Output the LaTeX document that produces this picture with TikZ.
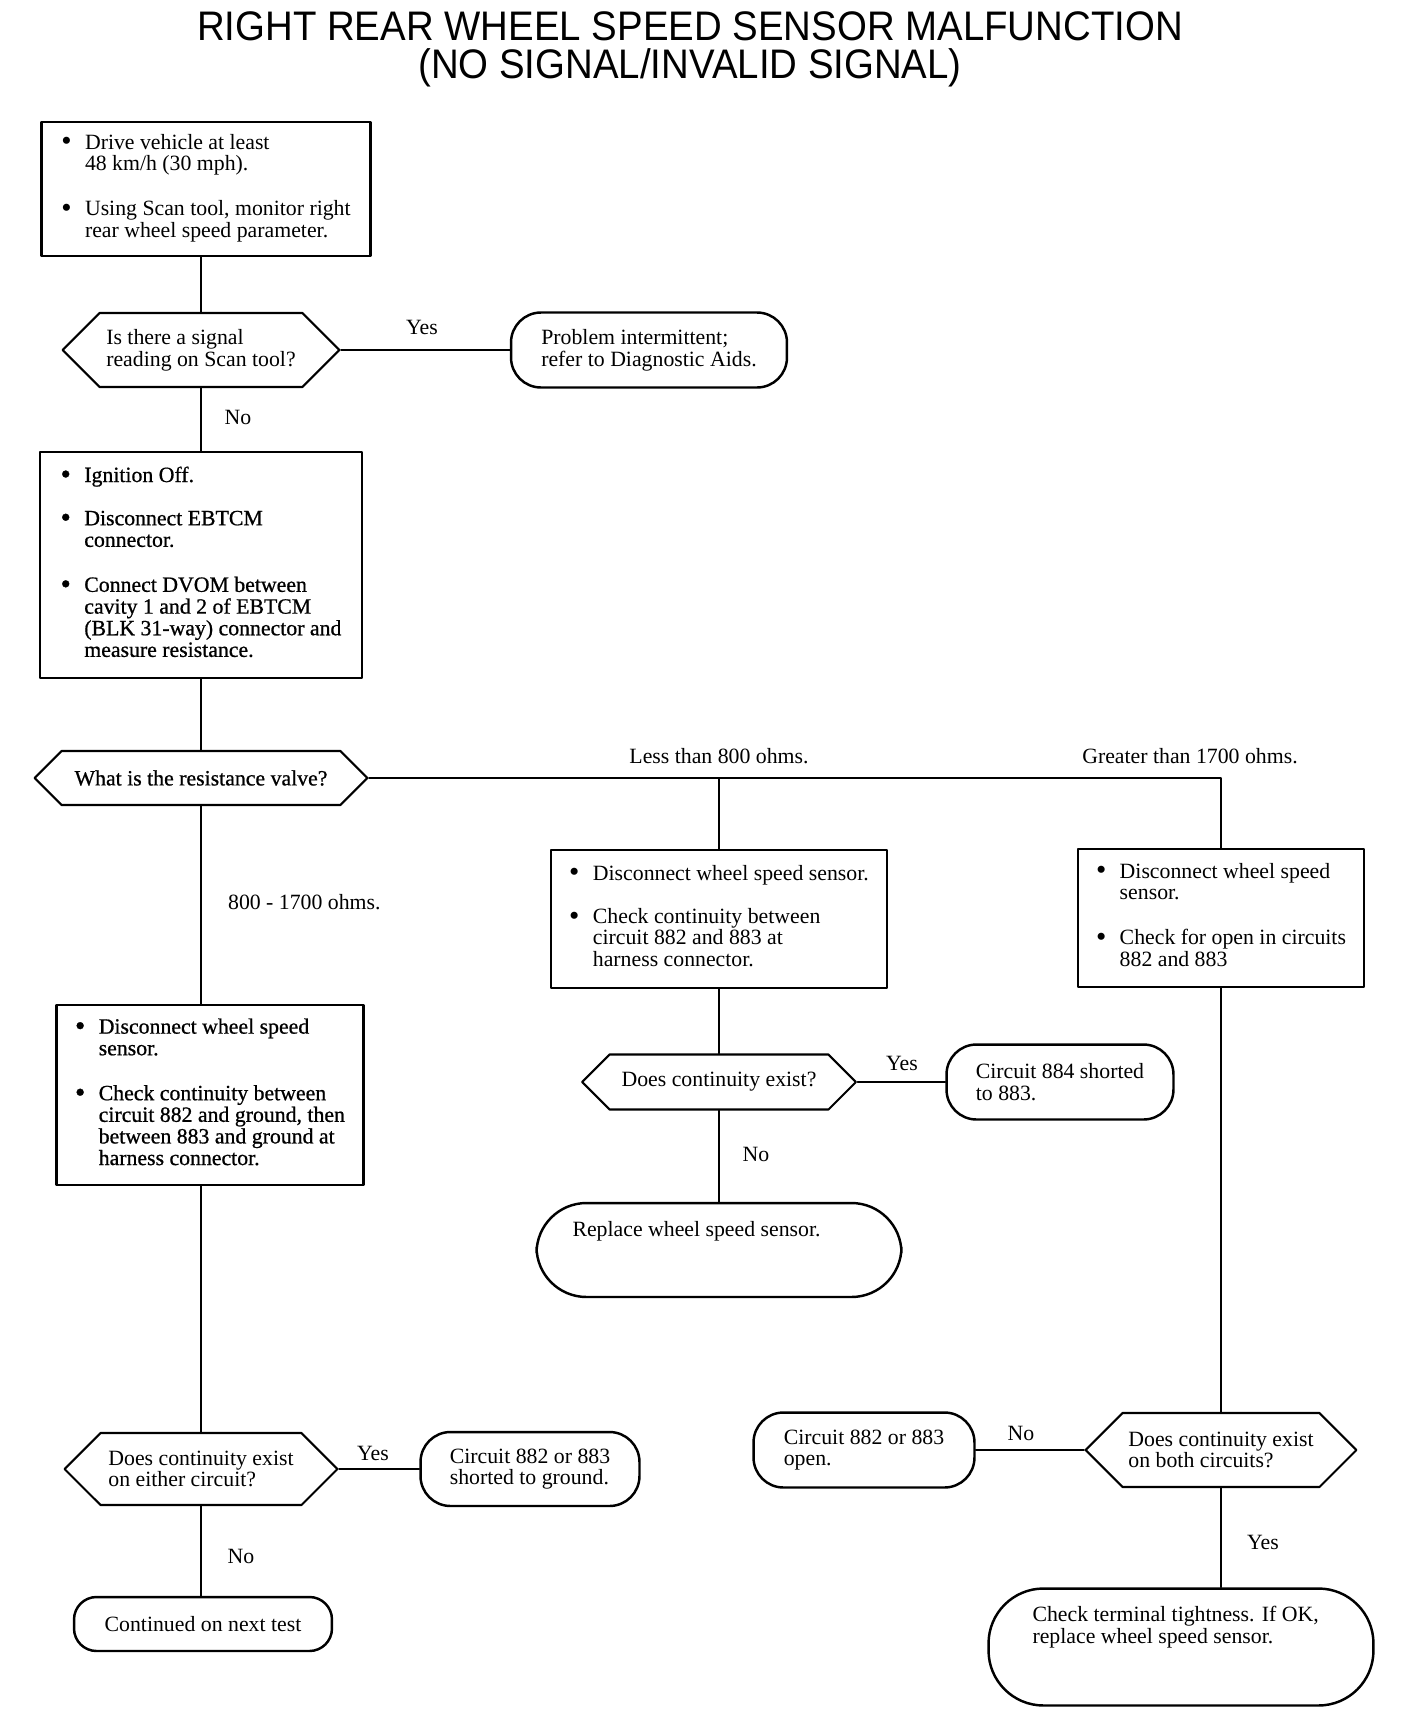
\documentclass[tikz,border=0pt]{standalone}
\usepackage{graphicx}
\usepackage{fontspec}
\setmainfont{Liberation Serif}
\newfontfamily\titlefont{Liberation Sans}[FakeStretch=0.93]
\newfontfamily\heavyfont{Liberation Serif}[FakeBold=0.8]
\usetikzlibrary{shapes.symbols}

% bullet line with hanging text
\newcommand{\bitem}[1]{\makebox[13.5pt][l]{\raisebox{-1pt}{\scalebox{1.35}{\textbullet}}}\begin{tabular}[t]{@{}l@{}}#1\end{tabular}}
% text pinned to the top of a tall node
\newcommand{\toptext}[3]{\begin{minipage}[c][#1][t]{#2}\raggedright #3\end{minipage}}

\begin{document}
\begin{tikzpicture}[
    x=0.02cm,
    y=-0.02cm,
    line cap=round,
    line join=round,
    every node/.style={
        font=\fontsize{12.4}{12.3}\selectfont
    },
    heavy/.style={
        font=\heavyfont\fontsize{12.4}{12.3}\selectfont
    },
    headline/.style={
        anchor=base,
        inner sep=0pt,
        font=\titlefont\fontsize{23.5}{24}\selectfont
    },
    stepbox/.style={
        draw,
        line width=1.4pt,
        align=left,
        inner sep=0pt
    },
    decision/.style={
        draw,
        line width=1.2pt,
        shape=signal,
        signal to=west and east,
        align=left,
        inner sep=0pt
    },
    terminal/.style={
        draw,
        line width=1.4pt,
        rounded corners=0.6cm,
        align=left,
        inner sep=0pt
    },
    bigterminal/.style={
        draw,
        line width=1.4pt,
        rounded corners=1cm
    },
    link/.style={
        line width=1pt
    },
    answer/.style={
        inner sep=1pt
    }
]

% -------------------------------------------------
% Page frame and title
% -------------------------------------------------

\useasboundingbox (0,0) rectangle (1408,1722);

\node[headline] (title) at (690,40) {RIGHT REAR WHEEL SPEED SENSOR MALFUNCTION};
\node[headline] (subtitle) at (690,78) {(NO SIGNAL/INVALID SIGNAL)};

% -------------------------------------------------
% Left column
% -------------------------------------------------

\node[stepbox, minimum width=6.58cm, minimum height=2.68cm]
    (drive) at (206,189)
    {\bitem{Drive vehicle at least\\48 km/h (30 mph).}\\[\baselineskip]
     \bitem{Using Scan tool, monitor right\\rear wheel speed parameter.}};

\node[decision, minimum width=5.54cm, minimum height=1.48cm]
    (signal) at (201,350)
    {Is there a signal\\reading on Scan tool?};

\node[terminal, minimum width=5.52cm, minimum height=1.5cm]
    (intermit) at (649,350)
    {Problem intermittent;\\refer to Diagnostic Aids.};

\node[stepbox, heavy, minimum width=6.44cm, minimum height=4.52cm]
    (ignition) at (201,565)
    {\bitem{Ignition Off.}\\[\baselineskip]
     \bitem{Disconnect EBTCM\\connector.}\\[\baselineskip]
     \bitem{Connect DVOM between\\cavity 1 and 2 of EBTCM\\(BLK 31-way) connector and\\measure resistance.}};

\node[decision, heavy, minimum width=6.66cm, minimum height=1.08cm]
    (resist) at (201,778)
    {What is the resistance valve?};

\node[stepbox, heavy, minimum width=6.14cm, minimum height=3.6cm]
    (groundchk) at (210,1095)
    {\bitem{Disconnect wheel speed\\sensor.}\\[\baselineskip]
     \bitem{Check continuity between\\circuit 882 and ground, then\\between 883 and ground at\\harness connector.}};

\node[decision, minimum width=5.46cm, minimum height=1.44cm]
    (contL) at (201,1469)
    {Does continuity exist\\on either circuit?};

\node[terminal, minimum width=4.38cm, minimum height=1.48cm]
    (shortgnd) at (530,1469)
    {Circuit 882 or 883\\shorted to ground.};

\node[terminal, rounded corners=0.45cm, minimum width=5.16cm, minimum height=1.08cm]
    (nexttest) at (203,1624)
    {Continued on next test};

% -------------------------------------------------
% Middle column
% -------------------------------------------------

\node[stepbox, minimum width=6.72cm, minimum height=2.76cm]
    (shortchk) at (719,919)
    {\bitem{Disconnect wheel speed sensor.}\\[\baselineskip]
     \bitem{Check continuity between\\circuit 882 and 883 at\\harness connector.}};

\node[decision, minimum width=5.48cm, minimum height=1.1cm]
    (contM) at (719,1082)
    {Does continuity exist?};

\node[terminal, minimum width=4.54cm, minimum height=1.5cm]
    (short884) at (1060,1082)
    {Circuit 884 shorted\\to 883.};

\node[bigterminal, inner xsep=0.72cm, inner ysep=0.36cm]
    (replace) at (719,1250)
    {\toptext{1.16cm}{5.86cm}{Replace wheel speed sensor.}};

% -------------------------------------------------
% Right column
% -------------------------------------------------

\node[stepbox, minimum width=5.72cm, minimum height=2.76cm]
    (openchk) at (1221,918)
    {\bitem{Disconnect wheel speed\\sensor.}\\[\baselineskip]
     \bitem{Check for open in circuits\\882 and 883}};

\node[decision, minimum width=5.42cm, minimum height=1.48cm]
    (contR) at (1221,1450)
    {Does continuity exist\\on both circuits?};

\node[terminal, minimum width=4.42cm, minimum height=1.5cm]
    (opencirc) at (864,1450)
    {Circuit 882 or 883\\open.};

\node[bigterminal, rounded corners=1.1cm, inner xsep=0.88cm, inner ysep=0.36cm]
    (tighten) at (1181,1647)
    {\toptext{1.62cm}{5.94cm}{Check terminal tightness. If OK,\\replace wheel speed sensor.}};

% -------------------------------------------------
% Branch labels
% -------------------------------------------------

\node[answer] (yesA) at (422,327) {Yes};
\node[answer] (noA) at (238,417) {No};
\node[answer] (less) at (719,756) {Less than 800 ohms.};
\node[answer] (greater) at (1190,756) {Greater than 1700 ohms.};
\node[answer, anchor=west] (mid) at (226,902) {800 - 1700 ohms.};
\node[answer] (yesB) at (902,1063) {Yes};
\node[answer] (noB) at (756,1154) {No};
\node[answer] (yesC) at (373,1453) {Yes};
\node[answer] (noC) at (241,1556) {No};
\node[answer] (noD) at (1021,1433) {No};
\node[answer] (yesD) at (1263,1542) {Yes};

% -------------------------------------------------
% Connectors
% -------------------------------------------------

\draw[link] (signal.north) -- (signal.north |- drive.south);
\draw[link] (signal.east) -- (intermit.west);
\draw[link] (signal.south) -- (signal.south |- ignition.north);
\draw[link] (ignition.south) -- (resist.north);

% three-way split after the resistance check
\draw[link] (resist.east) -- (resist.east -| openchk.north) -- (openchk.north);
\draw[link] (resist.east -| shortchk.north) -- (shortchk.north);
\draw[link] (resist.south) -- (resist.south |- groundchk.north);

\draw[link] (contL.north) -- (contL.north |- groundchk.south);
\draw[link] (contL.east) -- (shortgnd.west);
\draw[link] (contL.south) -- (contL.south |- nexttest.north);

\draw[link] (shortchk.south) -- (contM.north);
\draw[link] (contM.east) -- (short884.west);
\draw[link] (contM.south) -- (replace.north);

\draw[link] (openchk.south) -- (contR.north);
\draw[link] (contR.west) -- (opencirc.east);
\draw[link] (contR.south) -- (contR.south |- tighten.north);

\end{tikzpicture}
\end{document}
